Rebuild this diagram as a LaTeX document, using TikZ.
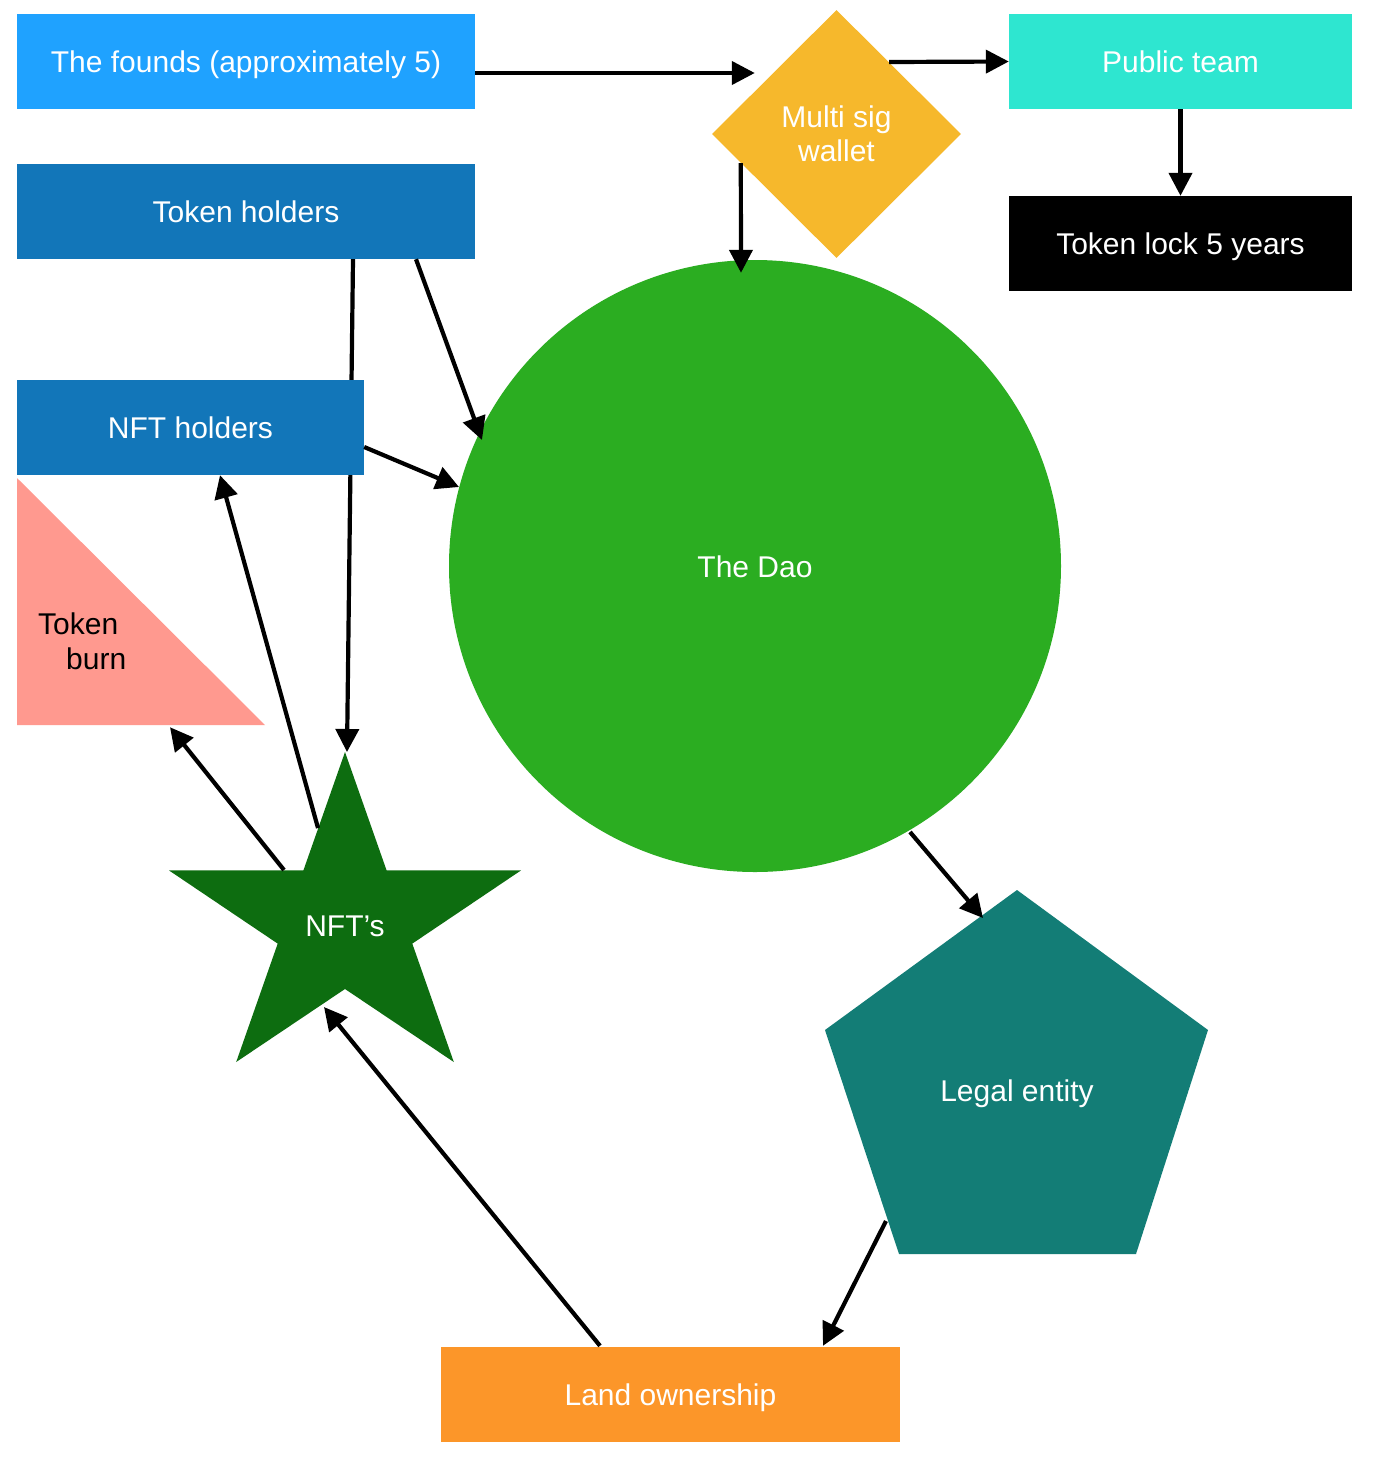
\documentclass[tikz,border=0pt]{standalone}
\usepackage{fontspec}
\setmainfont{Liberation Sans}
\usetikzlibrary{arrows.meta,calc,shapes.geometric}
\definecolor{cFounds}{RGB}{31,162,255}
\definecolor{cHold}{RGB}{18,118,185}
\definecolor{cBurn}{RGB}{255,153,143}
\definecolor{cWallet}{RGB}{246,184,44}
\definecolor{cPublic}{RGB}{46,230,208}
\definecolor{cDao}{RGB}{43,173,33}
\definecolor{cStar}{RGB}{13,109,16}
\definecolor{cLegal}{RGB}{19,125,118}
\definecolor{cLand}{RGB}{252,150,41}
\newcommand\lblfont{\fontsize{30}{34.5}\selectfont}
\begin{document}
\begin{tikzpicture}[x=1pt,y=-1pt,
  box/.style={rectangle,inner sep=0pt,text=white,font=\lblfont,text height=22.8pt,text depth=0pt},
  txt/.style={inner sep=0pt,text=white,font=\lblfont,align=center,text height=22.8pt,text depth=0pt},
  conn/.style={line width=4.2pt,-{Triangle[length=23pt,width=23pt]}}]
\fill[white] (0,0) rectangle (1374,1460);
\useasboundingbox (0,0) rectangle (1374,1460);
% shapes
\node[circle,fill=cDao,minimum size=612pt,inner sep=0pt,text=white,font=\lblfont,text height=22.8pt,text depth=0pt] (dao) at (755,566) {The Dao};
\node[box,fill=cFounds,minimum width=458pt,minimum height=95pt] (founds) at (246,61.5) {The founds (approximately 5)};
\node[box,fill=cHold,minimum width=458pt,minimum height=95pt] (tokenh) at (246,211.5) {Token holders};
\node[diamond,fill=cWallet,minimum width=249pt,minimum height=248pt,inner sep=0pt,text=white,font=\lblfont,align=center] (msig) at (836.5,134) {Multi sig\\wallet};
\node[box,fill=cPublic,minimum width=343pt,minimum height=95pt] (public) at (1180.5,61.5) {Public team};
\node[box,fill=black,minimum width=343pt,minimum height=95pt] (lock) at (1180.5,243.5) {Token lock 5 years};
\fill[cStar] (345,752) -- (386.6,870.4) -- (521,870.4) -- (412.3,943.6) -- (453.8,1062)
  -- (345,989) -- (236.2,1062) -- (277.7,943.6) -- (169,870.4) -- (303.4,870.4) -- cycle;
\node[txt] (nft) at (345,925) {NFT’s};
\fill[cLegal] (1017,890) -- (1208,1030) -- (1136,1254) -- (899,1254) -- (825,1030) -- cycle;
\node[txt] (legal) at (1017,1090) {Legal entity};
\node[box,fill=cLand,minimum width=459pt,minimum height=95pt] (land) at (670.5,1394.5) {Land ownership};
\fill[cBurn] (17,478) -- (17,725) -- (265,725) -- cycle;
\node[inner sep=0pt,minimum width=248pt,minimum height=247pt] (burn) at (141,601.5) {};
\node[inner sep=0pt,anchor=base west,font=\lblfont] (burnA) at (38,634) {Token};
\node[inner sep=0pt,anchor=base west,font=\lblfont] (burnB) at (66,669) {burn};
% connector passing behind NFT holders
\draw[conn] ($(tokenh.south)+(107,0)$) -- ($(nft)+(2,-173)$);
\node[box,fill=cHold,minimum width=347pt,minimum height=95pt] (nfth) at (190.5,427.5) {NFT holders};
% connectors
\draw[conn] ($(founds.east)+(0,11.5)$) -- ($(msig.west)+(43,-61)$);
\draw[conn] ($(msig.east)+(-72,-72)$) -- (public.west);
\draw[conn] (public.south) -- (lock.north);
\draw[conn] ($(msig.west)+(29,29)$) -- ($(dao.north)+(-14,13)$);
\draw[conn] ($(tokenh.south)+(170,0)$) -- ($(dao.center)+(-273,-126)$);
\draw[conn] ($(nfth.east)+(0,19.5)$) -- ($(dao.center)+(-296,-79)$);
\draw[conn] ($(nft)+(-27,-97)$) -- ($(nfth.south)+(29.5,0)$);
\draw[conn] ($(nft)+(-61,-55)$) -- ($(burn.south)+(29,2)$);
\draw[conn] ($(dao.center)+(155,266)$) -- ($(legal)+(-34,-172)$);
\draw[conn] ($(legal)+(-131,131)$) -- ($(land.north)+(152.5,-1)$);
\draw[conn] ($(land.north)+(-70.5,-1)$) -- ($(nft)+(-21,82)$);
\end{tikzpicture}
\end{document}
